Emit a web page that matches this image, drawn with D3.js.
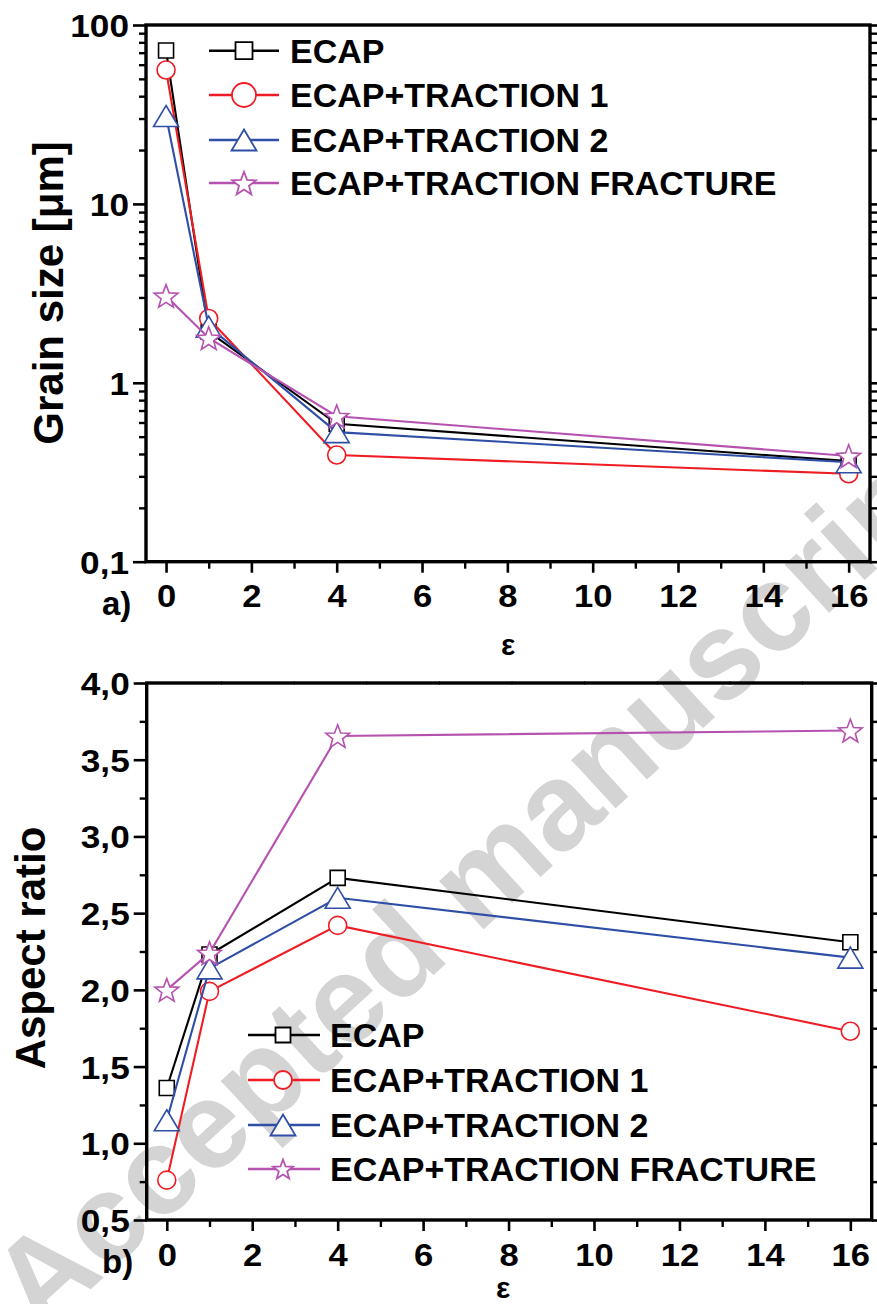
<!DOCTYPE html>
<html><head><meta charset="utf-8">
<script src="https://cdn.jsdelivr.net/npm/d3@7"></script>
<style>
body{margin:0;background:#fff}
svg{display:block}
text{font-family:"Liberation Sans",Arial,sans-serif;font-weight:bold;fill:#000}
</style>
</head><body>
<svg id="chart" width="877" height="1304"></svg>
<script>
// ---------- data ----------
const strain = [0, 1, 4, 16];
const seriesNames = ["ECAP", "ECAP+TRACTION 1", "ECAP+TRACTION 2", "ECAP+TRACTION FRACTURE"];
const seriesColors = ["#000000", "#f01c24", "#2f4fa6", "#b552b0"];
const seriesMarkers = ["square", "circle", "triangle", "star"];

const grainECAP = [72, 1.93, 0.59, 0.365];
const grainT1 = [56, 2.29, 0.395, 0.31];
const grainT2 = [31, 2.06, 0.53, 0.36];
const grainFracture = [3.06, 1.78, 0.65, 0.39];

const aspectECAP = [1.36, 2.23, 2.73, 2.31];
const aspectT1 = [0.76, 1.99, 2.42, 1.73];
const aspectT2 = [1.15, 2.14, 2.6, 2.21];
const aspectFracture = [2.0, 2.24, 3.655, 3.69];

const xTicks = [0, 2, 4, 6, 8, 10, 12, 14, 16];
const xMinorTicks = [1, 3, 5, 7, 9, 11, 13, 15];
const grainTicks = [0.1, 1, 10, 100];
const grainTickLabels = ["0,1", "1", "10", "100"];
const aspectTicks = [0.5, 1.0, 1.5, 2.0, 2.5, 3.0, 3.5, 4.0];
const aspectTickLabels = ["0,5", "1,0", "1,5", "2,0", "2,5", "3,0", "3,5", "4,0"];
const aspectMinorTicks = [0.75, 1.25, 1.75, 2.25, 2.75, 3.25, 3.75];
const frameTopTicks = [1.27, 2.97, 4.67, 6.37, 8.07, 9.77, 11.47, 13.17, 14.87];

const grainData = [grainECAP, grainT1, grainT2, grainFracture];
const aspectData = [aspectECAP, aspectT1, aspectT2, aspectFracture];

// ---------- helpers ----------
const svg = d3.select("#chart");

function markerPath(type, s) {
  if (type === "square") { const h = s.sq / 2; return `M${-h},${-h}H${h}V${h}H${-h}Z`; }
  if (type === "circle") { const r = s.r; return `M${-r},0A${r},${r} 0 1,0 ${r},0A${r},${r} 0 1,0 ${-r},0Z`; }
  if (type === "triangle") { const w = s.tw / 2, h = s.th / 2; return `M0,${-h}L${w},${h}L${-w},${h}Z`; }
  const R = s.star, ri = R * 0.42; let p = "";
  for (let i = 0; i < 10; i++) {
    const a = -Math.PI / 2 + i * Math.PI / 5, rr = i % 2 ? ri : R;
    p += (i ? "L" : "M") + (rr * Math.cos(a)).toFixed(2) + "," + (rr * Math.sin(a) + R * 0.1).toFixed(2);
  }
  return p + "Z";
}
const plotSizes = { sq: 15, r: 9, tw: 25, th: 21, star: 12.5 };

function stretch(sel, f) {
  sel.each(function () {
    const w = this.getComputedTextLength();
    d3.select(this).attr("textLength", w * f).attr("lengthAdjust", "spacingAndGlyphs");
  });
}

// ---------- watermark ----------
svg.append("text")
  .attr("transform", "translate(480,882) rotate(-42.5)")
  .attr("text-anchor", "middle")
  .attr("dy", "0.3em")
  .style("font-size", "124px")
  .style("fill", "#d4d4d4")
  .text("Accepted manuscript");

// ---------- panel builder ----------
function panel(opts) {
  const { x0, x1, y0, y1, yScale, yTicks, yLabels, yMinor, data, legend } = opts;
  const g = svg.append("g");
  const x = d3.scaleLinear().domain([-0.47, 16.5]).range([x0, x1]);

  // left axis
  g.append("g").attr("transform", `translate(${x0},0)`)
    .call(d3.axisLeft(yScale).tickValues(yTicks).tickSize(13).tickPadding(4)
      .tickFormat((d, i) => yLabels[i]))
    .call(a => a.select(".domain").remove())
    .call(a => a.selectAll("line").attr("stroke-width", 2.6))
    .call(a => a.selectAll("text").attr("dy", "0.36em").style("font-size", "32px").style("font-family", null))
    .call(a => stretch(a.selectAll("text"), 1.1));
  g.append("g").attr("transform", `translate(${x0},0)`)
    .call(d3.axisLeft(yScale).tickValues(yMinor).tickSize(7).tickFormat(""))
    .call(a => a.select(".domain").remove())
    .call(a => a.selectAll("line").attr("stroke-width", 2.4));
  // right axis
  g.append("g").attr("transform", `translate(${x1},0)`)
    .call(d3.axisRight(yScale).tickValues(yTicks).tickSize(10).tickFormat(""))
    .call(a => a.select(".domain").remove())
    .call(a => a.selectAll("line").attr("stroke-width", 2.6));
  g.append("g").attr("transform", `translate(${x1},0)`)
    .call(d3.axisRight(yScale).tickValues(yMinor).tickSize(7).tickFormat(""))
    .call(a => a.select(".domain").remove())
    .call(a => a.selectAll("line").attr("stroke-width", 2.4));
  // bottom axis
  g.append("g").attr("transform", `translate(0,${y1})`)
    .call(d3.axisBottom(x).tickValues(xTicks).tickSize(11).tickPadding(12).tickFormat(d3.format("d")))
    .call(a => a.select(".domain").remove())
    .call(a => a.selectAll("line").attr("stroke-width", 2.6))
    .call(a => a.selectAll("text").style("font-size", "32px").style("font-family", null))
    .call(a => stretch(a.selectAll("text"), 1.08));
  g.append("g").attr("transform", `translate(0,${y1})`)
    .call(d3.axisBottom(x).tickValues(xMinorTicks).tickSize(7).tickFormat(""))
    .call(a => a.select(".domain").remove())
    .call(a => a.selectAll("line").attr("stroke-width", 2.4));
  if (opts.topTicks) {
    g.append("g").attr("transform", `translate(0,${y0 - 2})`)
      .call(d3.axisBottom(x).tickValues(opts.topTicks).tickSize(4).tickFormat(""))
      .call(a => a.select(".domain").remove())
      .call(a => a.selectAll("line").attr("stroke-width", 1).attr("stroke", "#555"));
  }
  // frame
  g.append("rect").attr("x", x0).attr("y", y0).attr("width", x1 - x0).attr("height", y1 - y0)
    .attr("fill", "none").attr("stroke", "#000").attr("stroke-width", 3.4);

  // series
  const line = d3.line().x((d, i) => x(strain[i])).y(d => yScale(d));
  data.forEach((vals, si) => {
    const sg = g.append("g");
    sg.append("path").attr("d", line(vals)).attr("fill", "none")
      .attr("stroke", seriesColors[si]).attr("stroke-width", 2.1);
    sg.selectAll("path.m").data(vals).join("path").attr("class", "m")
      .attr("transform", (d, i) => `translate(${x(strain[i])},${yScale(d)})`)
      .attr("d", markerPath(seriesMarkers[si], plotSizes))
      .attr("fill", "#fff").attr("stroke", seriesColors[si]).attr("stroke-width", 1.6);
  });

  // legend
  const lg = g.append("g");
  seriesNames.forEach((name, si) => {
    const cy = legend.rows[si];
    lg.append("line").attr("x1", legend.lx0).attr("x2", legend.lx1).attr("y1", cy).attr("y2", cy)
      .attr("stroke", seriesColors[si]).attr("stroke-width", 2.4);
    lg.append("path").attr("transform", `translate(${legend.mx},${cy})`)
      .attr("d", markerPath(seriesMarkers[si], legend.sizes))
      .attr("fill", "#fff").attr("stroke", seriesColors[si]).attr("stroke-width", 1.8);
    lg.append("text").attr("x", legend.tx).attr("y", cy).attr("dy", "0.36em")
      .style("font-size", legend.font + "px").text(name);
  });

  // labels
  g.append("text").attr("transform", `translate(${opts.titleX},${opts.titleY}) rotate(-90)`)
    .attr("text-anchor", "middle").style("font-size", "42px").text(opts.title);
  g.append("text").attr("x", opts.epsX).attr("y", opts.epsY).attr("text-anchor", "middle")
    .style("font-size", "30px").text("ε");
  g.append("text").attr("x", 102).attr("y", opts.tagY).style("font-size", "33px").text(opts.tag);
}

// ---------- panel a ----------
const yGrain = d3.scaleLog().domain([0.1, 100]).range([561.7, 25]);
const grainMinor = [];
[0.1, 1, 10].forEach(dec => { for (let k = 2; k <= 9; k++) grainMinor.push(+(dec * k).toPrecision(3)); });
panel({
  x0: 146, x1: 870, y0: 25, y1: 561.7, yScale: yGrain,
  yTicks: grainTicks, yLabels: grainTickLabels, yMinor: grainMinor,
  data: grainData,
  legend: { lx0: 209, lx1: 279, mx: 244, tx: 290, rows: [50.7, 95, 140, 183], font: 34,
            sizes: { sq: 17, r: 12, tw: 25, th: 21, star: 12.5 } },
  title: "Grain size [μm]", titleX: 63, titleY: 293,
  epsX: 508, epsY: 655, tag: "a)", tagY: 615
});

// ---------- panel b ----------
const yAspect = d3.scaleLinear().domain([0.5, 4.0]).range([1220, 683]);
panel({
  x0: 146.7, x1: 871.7, y0: 683, y1: 1220, yScale: yAspect,
  yTicks: aspectTicks, yLabels: aspectTickLabels, yMinor: aspectMinorTicks,
  data: aspectData, topTicks: frameTopTicks,
  legend: { lx0: 248, lx1: 320, mx: 283, tx: 330, rows: [1035, 1080, 1125, 1169], font: 34,
            sizes: { sq: 15, r: 9, tw: 25, th: 21, star: 10.5 } },
  title: "Aspect ratio", titleX: 45, titleY: 948,
  epsX: 503, epsY: 1298, tag: "b)", tagY: 1273
});
</script>
</body></html>
